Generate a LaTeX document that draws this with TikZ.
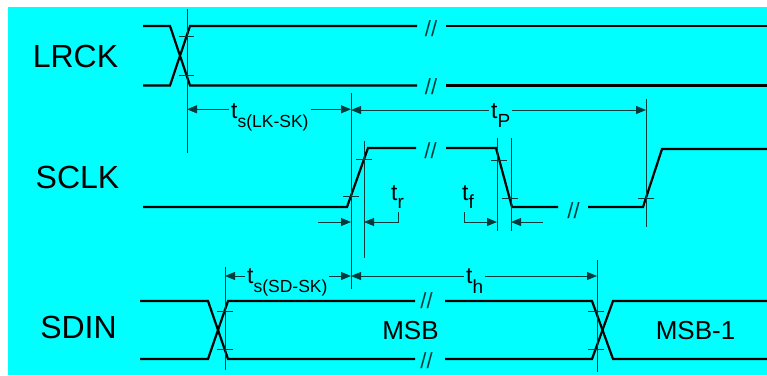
\documentclass[tikz,border=0pt]{standalone}
\usepackage{fontspec}
\setmainfont{Liberation Sans}
\usetikzlibrary{arrows.meta}
\definecolor{bgC}{RGB}{0,255,255}
\definecolor{guideC}{RGB}{0,60,60}
\newcommand\tsym[3]{{\fontsize{23}{23}\selectfont t}\raisebox{-#3pt}{\fontsize{#2}{#2}\selectfont #1}}
\begin{document}
\begin{tikzpicture}[x=1pt,y=-1pt,
  sig/.style={line width=2.2pt, line join=miter},
  guide/.style={line width=0.9pt, draw=guideC},
  tick/.style={line width=0.9pt, draw=guideC},
  dimboth/.style={guide, {Triangle[length=10pt,width=8pt]}-{Triangle[length=10pt,width=8pt]}},
  dimend/.style={guide, -{Triangle[length=10pt,width=8pt]}},
  lab/.style={font=\fontsize{32}{36}\selectfont, inner sep=0pt},
  val/.style={font=\fontsize{26}{30}\selectfont, inner sep=0pt},
  brk/.style={font=\fontsize{22}{24}\selectfont, text=guideC, inner sep=0pt},
  tlab/.style={anchor=base west, fill=bgC, inner xsep=2pt, inner ysep=0pt}
]
\useasboundingbox (0,0) rectangle (767,375);
\fill[bgC] (8,7) rectangle (767,375);

% signal names
\node[lab, anchor=base] (lrck) at (75.5,67) {LRCK};
\node[lab, anchor=base] (sclk) at (77.5,188) {SCLK};
\node[lab, anchor=base] (sdin) at (78.5,338) {SDIN};

% LRCK
\draw[sig] (143,26) -- (170,26) -- (190,85.5) -- (417,85.5);
\draw[sig] (143,85.5) -- (170,85.5) -- (190,26) -- (417,26);
\draw[sig] (446,26) -- (767,26);
\draw[sig] (446,85.5) -- (767,85.5);
\node[brk] (brkA) at (431,29) {//};
\node[brk] (brkB) at (431,87) {//};

% SCLK
\draw[sig] (143,207) -- (347,207) -- (368,148) -- (416,148);
\draw[sig] (446,148) -- (496,148) -- (512,207) -- (558,207);
\draw[sig] (588,207) -- (643,207) -- (662,149) -- (767,149);
\node[brk] (brkC) at (430.5,151) {//};
\node[brk] (brkD) at (573.5,211) {//};

% SDIN
\draw[sig] (140,301) -- (208,301) -- (228,359) -- (415,359);
\draw[sig] (140,359) -- (208,359) -- (228,301) -- (415,301);
\draw[sig] (445,301) -- (592,301) -- (613,359) -- (767,359);
\draw[sig] (445,359) -- (592,359) -- (613,301) -- (767,301);
\node[brk] (brkE) at (426.5,301) {//};
\node[brk] (brkF) at (426.5,361) {//};
\node[val] (msb) at (410.5,331) {MSB};
\node[val] (msb1) at (695.5,331) {MSB-1};

% guide lines
\coordinate (g1t) at (187,9);   \coordinate (g1b) at (187,153);
\coordinate (g2t) at (351,93);  \coordinate (g2b) at (351,289);
\coordinate (g3t) at (364,141); \coordinate (g3b) at (364,258);
\coordinate (g4t) at (497,138); \coordinate (g4b) at (497,231);
\coordinate (g5t) at (511,138); \coordinate (g5b) at (511,231);
\coordinate (g6t) at (646,99);  \coordinate (g6b) at (646,227);
\coordinate (g7t) at (225,267); \coordinate (g7b) at (225,370);
\coordinate (g8t) at (597,260); \coordinate (g8b) at (597,372);
\foreach \g in {1,...,8} {\draw[guide] (g\g t) -- (g\g b);}

% ticks
\foreach \xa/\xb/\yy in {179/194/36.7, 179/194/75.7, 343/359/196.7, 356/372/159,
  491/507/160, 502/518/198, 638/654/198, 217/233/311, 217/233/349, 588/604/311, 588/604/349}
  {\draw[tick] (\xa,\yy) -- (\xb,\yy);}

% ts(LK-SK)
\coordinate (lkA) at (187,109.3); \coordinate (lkB) at (351,109.3);
\draw[dimboth] (lkA) -- (lkB);
\node[tlab] (tlk) at (229,118) {\tsym{s(LK-SK)}{17.5}{9}};
% tP
\coordinate (pA) at (351,110); \coordinate (pB) at (646,110);
\draw[dimboth] (pA) -- (pB);
\node[tlab] (tp) at (489,118) {\tsym{P}{19}{9}};
% tr
\coordinate (rA) at (318,222); \coordinate (rB) at (351,222);
\coordinate (rC) at (398,212); \coordinate (rD) at (398,222); \coordinate (rE) at (364,222);
\draw[dimend] (rA) -- (rB);
\draw[dimend] (rC) -- (rD) -- (rE);
\node[anchor=base west, inner sep=0pt] (tr) at (391,200) {\tsym{r}{19}{8}};
% tf
\coordinate (fA) at (464,212); \coordinate (fB) at (464,222); \coordinate (fC) at (497,222);
\coordinate (fD) at (543,222); \coordinate (fE) at (511,222);
\draw[dimend] (fA) -- (fB) -- (fC);
\draw[dimend] (fD) -- (fE);
\node[anchor=base west, inner sep=0pt] (tf) at (462,200) {\tsym{f}{19}{8}};
% ts(SD-SK)
\coordinate (sdA) at (225,276); \coordinate (sdB) at (351,276);
\draw[dimboth] (sdA) -- (sdB);
\node[tlab] (tsd) at (245,283) {\tsym{s(SD-SK)}{17.5}{9}};
% th
\coordinate (hA) at (351,276); \coordinate (hB) at (597,276);
\draw[dimboth] (hA) -- (hB);
\node[tlab] (th) at (464,283) {\tsym{h}{19}{10}};
\end{tikzpicture}
\end{document}
